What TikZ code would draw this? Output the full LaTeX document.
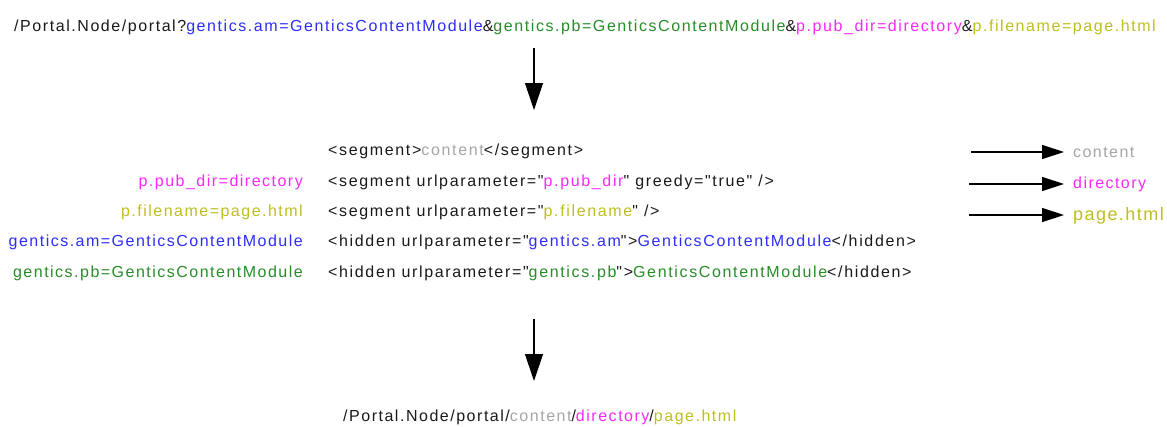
\documentclass[tikz,border=0pt]{standalone}
\usepackage{fontspec}
\setmainfont{Liberation Sans}[Ligatures=TeXOff]
\usetikzlibrary{arrows.meta}
\definecolor{ublue}{RGB}{45,45,250}
\definecolor{ugreen}{RGB}{40,140,40}
\definecolor{umag}{RGB}{250,40,250}
\definecolor{uolive}{RGB}{190,190,30}
\definecolor{ugray}{RGB}{165,165,165}
\definecolor{utext}{RGB}{25,25,25}
\newcommand\myblu[1]{\textcolor{ublue}{#1}}
\newcommand\mygrn[1]{\textcolor{ugreen}{#1}}
\newcommand\mymag[1]{\textcolor{umag}{#1}}
\newcommand\myolv[1]{\textcolor{uolive}{#1}}
\newcommand\mygry[1]{\textcolor{ugray}{#1}}
\begin{document}
\begin{tikzpicture}[x=1pt,y=-1pt,
  txt/.style={inner sep=0pt, text=utext, font=\fontsize{16}{19}\selectfont\addfontfeature{LetterSpace=#1}},
  txt/.default=9,
  bigtxt/.style={inner sep=0pt, font=\fontsize{18}{21}\selectfont\addfontfeature{LetterSpace=8}},
  bigarrow/.style={line width=1.2pt, -{Triangle[length=27pt,width=18pt]}},
  smallarrow/.style={line width=1.2pt, -{Triangle[length=22pt,width=14pt]}, shorten >=9pt}]
\useasboundingbox (0,0) rectangle (1167,426);
% top URL
\node[txt=9.8,anchor=base west] (top) at (14,31) {/Portal.Node/portal?\myblu{gentics.am=GenticsContentModule}\&\mygrn{gentics.pb=GenticsContentModule}\&\mymag{p.pub\_dir=directory}\&\myolv{p.filename=page.html}};
\coordinate (a1s) at (534,48);
\coordinate (a1e) at (534,110);
\draw[bigarrow] (a1s) -- (a1e);
% middle configuration
\node[txt=10.3,anchor=base west] (m1) at (328,155) {<segment>\mygry{content}</segment>};
\node[txt=10.3,anchor=base west] (m2) at (328,186) {<segment urlparameter="\mymag{p.pub\_dir}" greedy="true" />};
\node[txt=10.3,anchor=base west] (m3) at (328,216) {<segment urlparameter="\myolv{p.filename}" />};
\node[txt=10.3,anchor=base west] (m4) at (328,246) {<hidden urlparameter="\myblu{gentics.am}">\myblu{GenticsContentModule}</hidden>};
\node[txt=10.3,anchor=base west] (m5) at (328,277) {<hidden urlparameter="\mygrn{gentics.pb}">\mygrn{GenticsContentModule}</hidden>};
% left labels
\node[txt=9.3,anchor=base east,text=umag] (l2) at (303,186) {p.pub\_dir=directory};
\node[txt=9.3,anchor=base east,text=uolive] (l3) at (303,216) {p.filename=page.html};
\node[txt=9.3,anchor=base east,text=ublue] (l4) at (303,246) {gentics.am=GenticsContentModule};
\node[txt=9.3,anchor=base east,text=ugreen] (l5) at (303,277) {gentics.pb=GenticsContentModule};
% right results
\node[txt=9,anchor=base west,text=ugray] (r1) at (1073,157) {content};
\node[txt=9,anchor=base west,text=umag] (r2) at (1073,188) {directory};
\node[bigtxt,anchor=base west,text=uolive] (r3) at (1073,220) {page.html};
\coordinate (s1) at (971,152);
\coordinate (s2) at (969,184);
\coordinate (s3) at (969,215);
\draw[smallarrow] (s1) -- (r1.west |- s1);
\draw[smallarrow] (s2) -- (r2.west |- s2);
\draw[smallarrow] (s3) -- (r3.west |- s3);
% bottom arrow and result URL
\coordinate (a2s) at (534,319);
\coordinate (a2e) at (534,381);
\draw[bigarrow] (a2s) -- (a2e);
\node[txt=9.5,anchor=base west] (bot) at (343,421) {/Portal.Node/portal/\mygry{content}/\mymag{directory}/\myolv{page.html}};
\end{tikzpicture}
\end{document}
